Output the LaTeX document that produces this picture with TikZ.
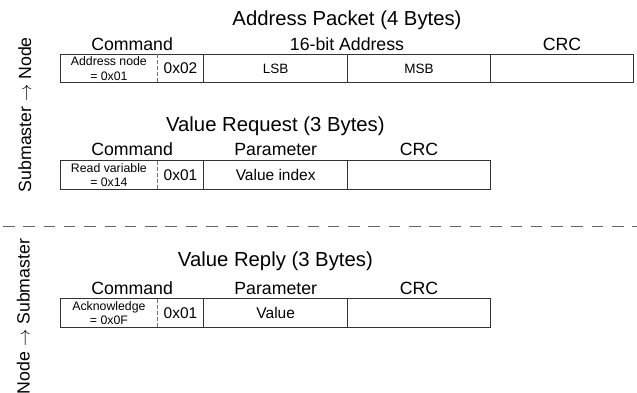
\documentclass[tikz,border=0pt]{standalone}
\usepackage{fontspec}
\setmainfont{Liberation Sans}
\usetikzlibrary{positioning}

\begin{document}
\begin{tikzpicture}[x=1pt,y=-1pt,
  title/.style={font=\fontsize{20.3}{24}\selectfont,anchor=base},
  field/.style={font=\fontsize{17.7}{21}\selectfont,anchor=base},
  cell/.style={inner sep=0pt,outer sep=0pt,minimum height=28.6pt,align=center,font=\fontsize{15.5}{18}\selectfont},
  subcell/.style={cell,font=\fontsize{12.3}{14.3}\selectfont},
  bytecell/.style={cell,font=\fontsize{13.5}{16}\selectfont},
  frame/.style={draw=black!80,line width=1.1pt},
  split/.style={draw=black!55,line width=1pt,dash pattern=on 4pt off 2pt},
  side/.style={font=\fontsize{17.7}{21}\selectfont,rotate=90,anchor=base},
  divider/.style={draw=black!60,line width=1.4pt,dash pattern=on 11.5pt off 8.8pt}]

\useasboundingbox (0,0) rectangle (637,392);

\node[side] (downlbl) at (31,114.7) {Submaster $\rightarrow$ Node};
\node[side] (uplbl) at (29.7,316.5) {Node $\rightarrow$ Submaster};

\node[title] (aptitle) at (347,25.7) {Address Packet (4 Bytes)};
\node[field] (apcmdlbl) at (132.1,50.5) {Command};
\node[field] (apaddrlbl) at (347,50.5) {16-bit Address};
\node[field] (apcrclbl) at (562,50.5) {CRC};
\node[subcell,minimum width=96.8pt] (apcmd) at (108.9,68.6) {Address node\\= 0x01};
\node[cell,minimum width=46.4pt] (apcnt) at (180.5,68.6) {0x02};
\node[bytecell,minimum width=144pt] (aplsb) at (275.7,68.6) {LSB};
\node[bytecell,minimum width=142.6pt] (apmsb) at (419,68.6) {MSB};
\node[cell,minimum width=143.4pt] (apcrc) at (562,68.6) {};
\draw[frame] (apcmd.north west) rectangle (apcrc.south east);
\draw[split] (apcmd.north east) -- (apcmd.south east);
\foreach \n in {apcnt,aplsb,apmsb}
  \draw[frame] (\n.north east) -- (\n.south east);

\node[title] (rqtitle) at (275.4,131.7) {Value Request (3 Bytes)};
\node[field] (rqcmdlbl) at (132.1,155) {Command};
\node[field] (rqparlbl) at (275.7,155) {Parameter};
\node[field] (rqcrclbl) at (419,155) {CRC};
\node[subcell,minimum width=96.8pt] (rqcmd) at (108.9,174.9) {Read variable\\= 0x14};
\node[cell,minimum width=46.4pt] (rqcnt) at (180.5,174.9) {0x01};
\node[cell,minimum width=144pt] (rqpar) at (275.7,174.9) {Value index};
\node[cell,minimum width=142.6pt] (rqcrc) at (419,174.9) {};
\draw[frame] (rqcmd.north west) rectangle (rqcrc.south east);
\draw[split] (rqcmd.north east) -- (rqcmd.south east);
\foreach \n in {rqcnt,rqpar}
  \draw[frame] (\n.north east) -- (\n.south east);

\draw[divider] (3,226.7) -- (637,226.7);

\node[title] (rptitle) at (275.4,266) {Value Reply (3 Bytes)};
\node[field] (rpcmdlbl) at (132.1,294) {Command};
\node[field] (rpparlbl) at (275.7,294) {Parameter};
\node[field] (rpcrclbl) at (419,294) {CRC};
\node[subcell,minimum width=96.8pt] (rpcmd) at (108.9,313.1) {Acknowledge\\= 0x0F};
\node[cell,minimum width=46.4pt] (rpcnt) at (180.5,313.1) {0x01};
\node[cell,minimum width=144pt] (rppar) at (275.7,313.1) {Value};
\node[cell,minimum width=142.6pt] (rpcrc) at (419,313.1) {};
\draw[frame] (rpcmd.north west) rectangle (rpcrc.south east);
\draw[split] (rpcmd.north east) -- (rpcmd.south east);
\foreach \n in {rpcnt,rppar}
  \draw[frame] (\n.north east) -- (\n.south east);

\end{tikzpicture}
\end{document}
